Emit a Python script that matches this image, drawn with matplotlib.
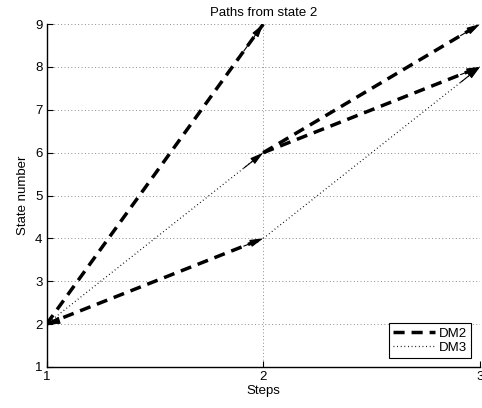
import matplotlib.pyplot as plt
import numpy as np

plt.rcParams["font.family"] = ["Liberation Sans", "DejaVu Sans"]

# path segments (step, state) -> (step, state)
dm2_segments = [((1, 2), (2, 9)), ((1, 2), (2, 4)), ((2, 6), (3, 9)), ((2, 6), (3, 8))]
dm3_segments = [((1, 2), (2, 6)), ((2, 4), (3, 8))]
x_ticks = [1, 2, 3]
y_ticks = list(range(1, 10))

fig = plt.figure(figsize=(4.82, 4.08), dpi=100)
ax = fig.add_axes([0.0965, 0.1005, 0.8995, 0.8405])


def draw(segs, **kw):
    first = True
    for (x0, y0), (x1, y1) in segs:
        ax.plot([x0, x1], [y0, y1], color="k", label=kw.pop("label", None) if first else None, **kw)
        first = False


draw(dm2_segments, linestyle=(0, (3.2, 2.0)), linewidth=2.5, label="DM2")
draw(dm3_segments, linestyle=(0, (0.7, 2.2)), linewidth=0.9, label="DM3")

arrow = dict(arrowstyle="-|>,head_length=0.8,head_width=0.22",
             color="k", lw=0.8, mutation_scale=10, shrinkA=0, shrinkB=0)

# arrow heads at each segment end
for (x0, y0), (x1, y1) in dm2_segments + dm3_segments:
    f = 0.09
    ax.annotate("", xy=(x1, y1), xytext=(x1 - f * (x1 - x0), y1 - f * (y1 - y0)),
                arrowprops=arrow, annotation_clip=False)

# arrow head at the start state
x_s, y_s = dm2_segments[0][0]
ax.annotate("", xy=(x_s, y_s), xytext=(x_s + 0.04, y_s + 0.06),
            arrowprops=arrow, annotation_clip=False)

ax.set_xlim(1, 3)
ax.set_ylim(1, 9)
ax.set_xticks(x_ticks)
ax.set_yticks(y_ticks)
ax.grid(True, linestyle=(0, (1, 2.5)), color="0.55", linewidth=0.7)
ax.tick_params(direction="in", length=4, labelsize=9.5, colors="k", pad=3)
for s in ["top", "right"]:
    ax.spines[s].set_visible(False)
ax.spines["left"].set_linewidth(1.0)
ax.spines["bottom"].set_linewidth(1.0)

ax.set_title("Paths from state 2", fontsize=9.5, pad=6)
ax.set_xlabel("Steps", fontsize=9.5, labelpad=1)
ax.set_ylabel("State number", fontsize=9.5, labelpad=4)

leg = ax.legend(loc="lower right", fontsize=9.5, frameon=True, fancybox=False,
                edgecolor="k", framealpha=1, handlelength=3.2, borderpad=0.3,
                labelspacing=0.15, handletextpad=0.3, borderaxespad=0.7)
leg.get_frame().set_linewidth(0.8)

fig.savefig("out.png", dpi=100)
